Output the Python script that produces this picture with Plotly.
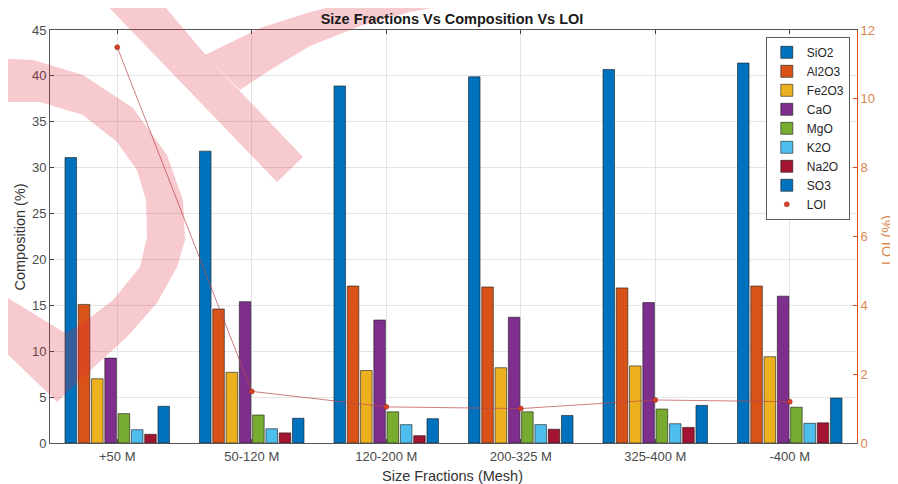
import plotly.graph_objects as go

categories = ["+50 M", "50-120 M", "120-200 M", "200-325 M", "325-400 M", "-400 M"]
sio2 = [31.1, 31.8, 38.9, 39.9, 40.7, 41.4]
al2o3 = [15.1, 14.6, 17.1, 17.0, 16.9, 17.1]
fe2o3 = [7.0, 7.7, 7.9, 8.2, 8.4, 9.4]
cao = [9.25, 15.4, 13.4, 13.7, 15.3, 16.0]
mgo = [3.2, 3.05, 3.4, 3.4, 3.7, 3.9]
k2o = [1.45, 1.55, 2.0, 2.0, 2.1, 2.15]
na2o = [0.95, 1.1, 0.8, 1.5, 1.7, 2.2]
so3 = [4.0, 2.7, 2.65, 3.0, 4.1, 4.9]
loi = [11.5, 1.5, 1.05, 1.0, 1.25, 1.2]

series = [
    ("SiO2", sio2, "#0072BD"),
    ("Al2O3", al2o3, "#D95319"),
    ("Fe2O3", fe2o3, "#EDB120"),
    ("CaO", cao, "#7E2F8E"),
    ("MgO", mgo, "#77AC30"),
    ("K2O", k2o, "#4DBEEE"),
    ("Na2O", na2o, "#A2142F"),
    ("SO3", so3, "#0072BD"),
]

FONT = "Liberation Sans, Arial, sans-serif"
OFF = 8  # page body margin
W, H = 890, 476
ML, MT = 50 - OFF, 30 - OFF
PW, PH = 807, 413
MR, MB = W - ML - PW, H - MT - PH


def px2paper(px, py):
    """window pixel -> paper coords"""
    return (px - OFF - ML) / PW, (MT + PH - (py - OFF)) / PH


fig = go.Figure()
for name, vals, col in series:
    fig.add_trace(go.Bar(
        x=categories, y=vals, name=name,
        marker=dict(color=col, line=dict(color="#1a1a1a", width=0.6)),
    ))

fig.add_trace(go.Scatter(
    x=categories, y=loi, yaxis="y2", mode="lines", showlegend=False,
    line=dict(color="rgba(185,75,75,0.8)", width=0.9), hoverinfo="skip",
))
fig.add_trace(go.Scatter(
    x=categories, y=loi, yaxis="y2", mode="markers", name="LOI",
    marker=dict(color="#D9402A", size=5, line=dict(color="#8a2a10", width=0.5)),
))


def to_path(pts):
    s = []
    for i, (px, py) in enumerate(pts):
        x, y = px2paper(px, py)
        s.append(("M" if i == 0 else "L") + f"{x:.4f},{y:.4f}")
    return " ".join(s) + " Z"


wm_d = [(-5, 58), (33, 60), (83, 75), (133, 108), (167, 155), (183, 200), (185, 240),
        (177, 267), (157, 303), (127, 337), (83, 377), (57, 402), (-5, 342), (-5, 290),
        (65, 333), (83, 323), (113, 300), (140, 267), (147, 237), (146, 200), (137, 170),
        (117, 142), (83, 115), (40, 102), (-5, 102)]
wm_leg = [(97, -5), (155, -5), (210, 60), (303, 157), (277, 182)]
wm_arc = [(205, 55), (260, 28), (310, 12), (350, 2), (365, -5), (475, -5),
          (465, 2), (410, 12), (360, 26), (310, 46), (270, 70), (240, 90)]
shapes = []
for pts in (wm_d, wm_leg, wm_arc):
    shapes.append(dict(type="path", xref="paper", yref="paper", path=to_path(pts),
                       fillcolor="rgba(220,35,55,0.24)", line=dict(width=0), layer="above"))

tick_font = dict(family=FONT, size=13, color="#4a4a4a")
lab_font = dict(family=FONT, size=14.5, color="#333333")
orange_tick = dict(family=FONT, size=13, color="#D8864F")
orange_lab = dict(family=FONT, size=14.5, color="#D8864F")

xt = px2paper(452, 476)
yt = px2paper(19.5, 237)
y2t = px2paper(887, 240)
annotations = [
    dict(text="Size Fractions (Mesh)", x=xt[0], y=xt[1], xref="paper", yref="paper",
         xanchor="center", yanchor="middle", showarrow=False, font=lab_font),
    dict(text="Composition (%)", x=yt[0], y=yt[1], xref="paper", yref="paper",
         xanchor="center", yanchor="middle", showarrow=False, textangle=-90, font=lab_font),
    dict(text="LOI (%)", x=y2t[0], y=y2t[1], xref="paper", yref="paper",
         xanchor="center", yanchor="middle", showarrow=False, textangle=-90, font=orange_lab),
]

leg = px2paper(850, 37)

fig.update_layout(
    width=W, height=H,
    margin=dict(l=ML, r=MR, t=MT, b=MB, autoexpand=False),
    paper_bgcolor="white", plot_bgcolor="white",
    barmode="group", bargap=0.21, bargroupgap=0.13,
    font=dict(family=FONT, size=12, color="#262626"),
    title=dict(text="<b>Size Fractions Vs Composition Vs LOI</b>", x=(452 - OFF) / W,
               xanchor="center", y=1 - (19 - OFF) / H, yanchor="middle",
               font=dict(family=FONT, size=14.5, color="#1a1a1a")),
    xaxis=dict(
        type="category", range=[-0.5, 5.5], showgrid=True, gridcolor="#e4e4e4",
        ticks="inside", ticklen=4, tickcolor="#404040", showline=True, linecolor="#555555",
        mirror="ticks", tickfont=tick_font, automargin=False, ticklabelstandoff=1,
    ),
    yaxis=dict(
        range=[0, 45], dtick=5, showgrid=True, gridcolor="#e4e4e4", zeroline=False,
        ticks="inside", ticklen=4, tickcolor="#404040", showline=True, linecolor="#555555",
        tickfont=tick_font, automargin=False,
    ),
    yaxis2=dict(
        overlaying="y", side="right", range=[0, 12], dtick=2, showgrid=False, zeroline=False,
        ticks="inside", ticklen=4, tickcolor="#D95319", showline=True, linecolor="#D95319",
        tickfont=orange_tick, automargin=False,
    ),
    legend=dict(
        x=leg[0], xanchor="right", y=leg[1], yanchor="top",
        bgcolor="white", bordercolor="#333333", borderwidth=0.8,
        font=dict(family=FONT, size=12, color="#262626"), tracegroupgap=0,
        itemwidth=30,
    ),
    shapes=shapes,
    annotations=annotations,
)

fig.write_html("out.html")
